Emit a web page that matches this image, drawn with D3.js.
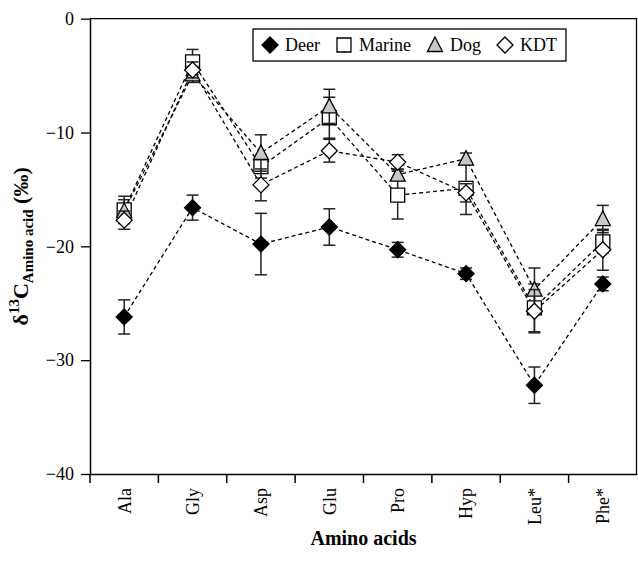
<!DOCTYPE html>
<html>
<head>
<meta charset="utf-8">
<script src="https://cdn.jsdelivr.net/npm/d3@7"></script>
<style>
  body { margin: 0; background: #fff; }
  svg { display: block; font-family: "Liberation Serif", "Times New Roman", serif; }
</style>
</head>
<body>
<div id="chart"></div>
<script>
// Amino acid d13C values (per mil), +/- error bars

var categories = ["Ala", "Gly", "Asp", "Glu", "Pro", "Hyp", "Leu*", "Phe*"];
var yTicks = [0, -10, -20, -30, -40];

var deer      = [-26.2, -16.6, -19.8, -18.3, -20.3, -22.4, -32.2, -23.3];
var deerErr   = [1.5, 1.1, 2.7, 1.6, 0.65, 0.5, 1.6, 0.6];
var marine    = [-16.8, -3.8, -13.0, -8.7, -15.5, -14.9, -25.4, -19.6];
var marineErr = [1.2, 1.1, 1.0, 1.8, 2.1, 2.3, 2.1, 1.0];
var dog       = [-16.9, -4.9, -11.8, -7.7, -13.7, -12.3, -23.8, -17.6];
var dogErr    = [1.0, 0.7, 1.6, 1.5, 0.5, 0.5, 1.9, 1.2];
var kdt       = [-17.7, -4.5, -14.6, -11.6, -12.6, -15.3, -25.7, -20.3];
var kdtErr    = [0.8, 0.7, 1.4, 1.0, 0.65, 0.8, 1.9, 1.8];

var seriesNames = ["Deer", "Marine", "Dog", "KDT"];

var width = 638, height = 562;
var margin = {top: 18.7, right: 1, bottom: 88, left: 90};

// build the series list the drawing code works on
var series = [
  {name: seriesNames[0], values: deer,   err: deerErr,   shape: "diamond",  fill: "#000"},
  {name: seriesNames[1], values: marine, err: marineErr, shape: "square",   fill: "#fff"},
  {name: seriesNames[2], values: dog,    err: dogErr,    shape: "triangle", fill: "#c8c8c8"},
  {name: seriesNames[3], values: kdt,    err: kdtErr,    shape: "diamond",  fill: "#fff"}
];

var svg = d3.select("#chart").append("svg")
  .attr("width", width)
  .attr("height", height);

var x = d3.scaleBand()
  .domain(categories)
  .range([margin.left, width - margin.right]);

var y = d3.scaleLinear()
  .domain([-40, 0])
  .range([height - margin.bottom, margin.top]);

var cx = function(i) { return x(categories[i]) + x.bandwidth() / 2; };

// plot frame: top and right borders
svg.append("path")
  .attr("d", "M" + x.range()[0] + "," + y(0) + "H" + (x.range()[1] - 0.5) + "V" + y(-40))
  .attr("fill", "none")
  .attr("stroke", "#000")
  .attr("stroke-width", 1.3);

// y axis
var yAxis = svg.append("g")
  .attr("transform", "translate(" + margin.left + ",0)")
  .call(d3.axisLeft(y).tickValues(yTicks).tickSize(9).tickSizeOuter(0).tickPadding(7));
yAxis.select(".domain").attr("stroke-width", 1.5);
yAxis.selectAll(".tick line").attr("stroke-width", 1.3);
yAxis.selectAll("text")
  .style("font-family", "Liberation Serif, serif")
  .style("font-size", "18px")
  .attr("fill", "#000");

// x axis: labels centred, ticks on the category boundaries
var xAxis = svg.append("g")
  .attr("transform", "translate(0," + y(-40) + ")")
  .call(d3.axisBottom(x).tickSize(0).tickSizeOuter(0));
xAxis.select(".domain").attr("stroke-width", 1.5);
xAxis.selectAll("text")
  .attr("transform", "rotate(-90)")
  .attr("x", -14)
  .attr("y", 0)
  .attr("dy", "0.35em")
  .style("text-anchor", "end")
  .style("font-family", "Liberation Serif, serif")
  .style("font-size", "18px")
  .attr("fill", "#000");

xAxis.selectAll(".bound")
  .data(categories)
  .enter().append("line")
  .attr("class", "bound")
  .attr("x1", function(d) { return x(d); })
  .attr("x2", function(d) { return x(d); })
  .attr("y1", 0)
  .attr("y2", 9)
  .attr("stroke", "#000")
  .attr("stroke-width", 1.5);

// axis titles
svg.append("text")
  .attr("x", (x.range()[0] + x.range()[1]) / 2)
  .attr("y", 545)
  .attr("text-anchor", "middle")
  .style("font-weight", "bold")
  .style("font-size", "20px")
  .text("Amino acids");

var yTitle = svg.append("text")
  .attr("transform", "translate(28," + (y(0) + y(-40)) / 2 + ") rotate(-90)")
  .attr("text-anchor", "middle")
  .style("font-weight", "bold")
  .style("font-size", "22px");
yTitle.append("tspan").text("\u03b4");
yTitle.append("tspan").attr("dy", -9).style("font-size", "15px").text("13");
yTitle.append("tspan").attr("dy", 9).text("C");
yTitle.append("tspan").attr("dy", 5).style("font-size", "15px").text("Amino acid");
yTitle.append("tspan").attr("dy", -5).text(" (\u2030)");

// dashed connecting lines
var line = d3.line()
  .x(function(d, i) { return cx(i); })
  .y(function(d) { return y(d); });

svg.selectAll(".series-line")
  .data(series)
  .enter().append("path")
  .attr("class", "series-line")
  .attr("d", function(d) { return line(d.values); })
  .attr("fill", "none")
  .attr("stroke", "#000")
  .attr("stroke-width", 1.3)
  .attr("stroke-dasharray", "4,3");

// marker shapes
function shapePath(shape) {
  if (shape == "diamond") return "M0,-8L8,0L0,8L-8,0Z";
  if (shape == "square") return "M-7,-7H7V7H-7Z";
  return "M0,-8L7.5,6.5L-7.5,6.5Z";
}

series.forEach(function(s) {
  var g = svg.append("g").attr("class", "series");

  // error bars
  var eb = g.selectAll(".err")
    .data(s.values)
    .enter().append("g")
    .attr("class", "err")
    .attr("stroke", "#222")
    .attr("stroke-width", 1.5);
  eb.append("line")
    .attr("x1", function(d, i) { return cx(i); })
    .attr("x2", function(d, i) { return cx(i); })
    .attr("y1", function(d, i) { return y(d + s.err[i]); })
    .attr("y2", function(d, i) { return y(d - s.err[i]); });
  [1, -1].forEach(function(sign) {
    eb.append("line")
      .attr("x1", function(d, i) { return cx(i) - 6; })
      .attr("x2", function(d, i) { return cx(i) + 6; })
      .attr("y1", function(d, i) { return y(d + sign * s.err[i]); })
      .attr("y2", function(d, i) { return y(d + sign * s.err[i]); });
  });

  // markers
  g.selectAll(".mark")
    .data(s.values)
    .enter().append("path")
    .attr("class", "mark")
    .attr("transform", function(d, i) { return "translate(" + cx(i) + "," + y(d) + ")"; })
    .attr("d", shapePath(s.shape))
    .attr("fill", s.fill)
    .attr("stroke", "#000")
    .attr("stroke-width", 1.3);
});

// legend
var legend = svg.append("g");
var legendBox = legend.append("rect")
  .attr("x", 253)
  .attr("y", 29)
  .attr("height", 32)
  .attr("fill", "#fff")
  .attr("stroke", "#000")
  .attr("stroke-width", 1.3);

var lx = 262;
series.forEach(function(s) {
  legend.append("path")
    .attr("transform", "translate(" + (lx + 8) + ",45)")
    .attr("d", shapePath(s.shape))
    .attr("fill", s.fill)
    .attr("stroke", "#000")
    .attr("stroke-width", 1.3);
  var t = legend.append("text")
    .attr("x", lx + 23)
    .attr("y", 51)
    .style("font-size", "18px")
    .text(s.name);
  lx += 23 + t.node().getComputedTextLength() + 16;
});
legendBox.attr("width", lx - 16 + 9 - 253);
</script>
</body>
</html>
